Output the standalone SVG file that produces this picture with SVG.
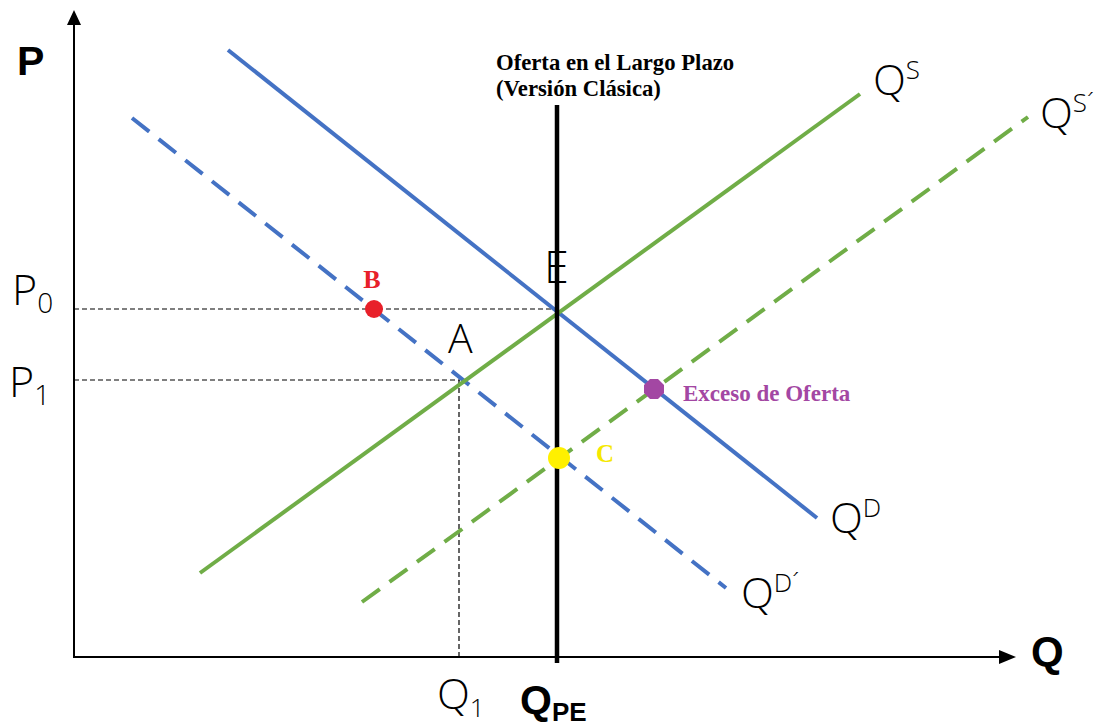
<svg xmlns="http://www.w3.org/2000/svg" width="1109" height="727" viewBox="0 0 1109 727">
<style>
.ax{stroke:#000;stroke-width:2;fill:none}
.guide{stroke:#000;stroke-width:1.2;stroke-dasharray:5 3;fill:none}
.blue{stroke:#4472C4;stroke-width:4;fill:none}
.green{stroke:#70AD47;stroke-width:4;fill:none}
.dash{stroke-dasharray:22 12}
.lbl{font-family:"Open Sans","Liberation Sans",sans-serif;font-weight:300;fill:#000}
.bold{font-family:"Liberation Sans",Arial,sans-serif;font-weight:bold;fill:#000}
.ser{font-family:"Liberation Serif","Times New Roman",serif;font-weight:bold}
</style>
<rect width="1109" height="727" fill="#fff"/>
<g id="connectors">
<line class="ax" x1="74" y1="658" x2="74" y2="20"/>
<path d="M74,10 L67,25 L81,25 Z" fill="#000"/>
<line class="ax" x1="73" y1="657" x2="1000" y2="657"/>
<path d="M1016,657 L999,650 L999,664 Z" fill="#000"/>
<line class="guide" x1="74" y1="309" x2="557" y2="309"/>
<line class="guide" x1="74" y1="380" x2="460" y2="380"/>
<line class="guide" x1="459" y1="380" x2="459" y2="657"/>
<line class="blue" x1="228" y1="50" x2="817" y2="518"/>
<line class="blue dash" x1="132" y1="118" x2="726" y2="588"/>
<line class="green" x1="200" y1="573" x2="860" y2="94"/>
<line class="green dash" x1="362" y1="602" x2="1028" y2="117"/>
<line stroke="#000" stroke-width="4.5" x1="557" y1="105" x2="557" y2="663"/>
</g>
<g id="point-B">
<circle cx="374" cy="309" r="9" fill="#E8202A"/>
<text class="ser" x="372" y="288" font-size="26" text-anchor="middle" fill="#E8202A">B</text>
</g>
<g id="point-C">
<circle cx="559" cy="458" r="11" fill="#FFF000"/>
<text class="ser" x="605" y="462" font-size="25" text-anchor="middle" fill="#F5E800">C</text>
</g>
<g id="point-exceso">
<polygon points="650,379 658,379 664,385 664,393 658,399 650,399 644,393 644,385" fill="#A347A3"/>
<text class="ser" x="683" y="401" font-size="23" fill="#A347A3">Exceso de Oferta</text>
</g>
<g id="title">
<text class="ser" x="496" y="70" font-size="22.7" fill="#000">Oferta en el Largo Plazo</text>
<text class="ser" x="496" y="96" font-size="22.7" fill="#000">(Versión Clásica)</text>
</g>
<g id="labels">
<text class="bold" x="17" y="75" font-size="41">P</text>
<text class="bold" x="1031" y="666" font-size="42">Q</text>
<text class="lbl" x="12" y="305" font-size="43">P<tspan font-size="28" dy="8">0</tspan></text>
<text class="lbl" x="9" y="397" font-size="43">P<tspan font-size="28" dy="8">1</tspan></text>
<text class="lbl" x="544" y="283" font-size="45">E</text>
<text class="lbl" x="448" y="353" font-size="41">A</text>
<text class="lbl" x="873" y="95" font-size="43">Q<tspan font-size="26" dy="-16">S</tspan></text>
<text class="lbl" x="1040" y="128" font-size="43">Q<tspan font-size="26" dy="-16">S´</tspan></text>
<text class="lbl" x="830" y="533" font-size="43">Q<tspan font-size="26" dy="-16">D</tspan></text>
<text class="lbl" x="741" y="608" font-size="43">Q<tspan font-size="26" dy="-16">D´</tspan></text>
<text class="lbl" x="437" y="709" font-size="43">Q<tspan font-size="26" dy="8">1</tspan></text>
<text class="bold" x="520" y="714" font-size="41">Q<tspan font-size="26" dy="7">PE</tspan></text>
</g>
</svg>
